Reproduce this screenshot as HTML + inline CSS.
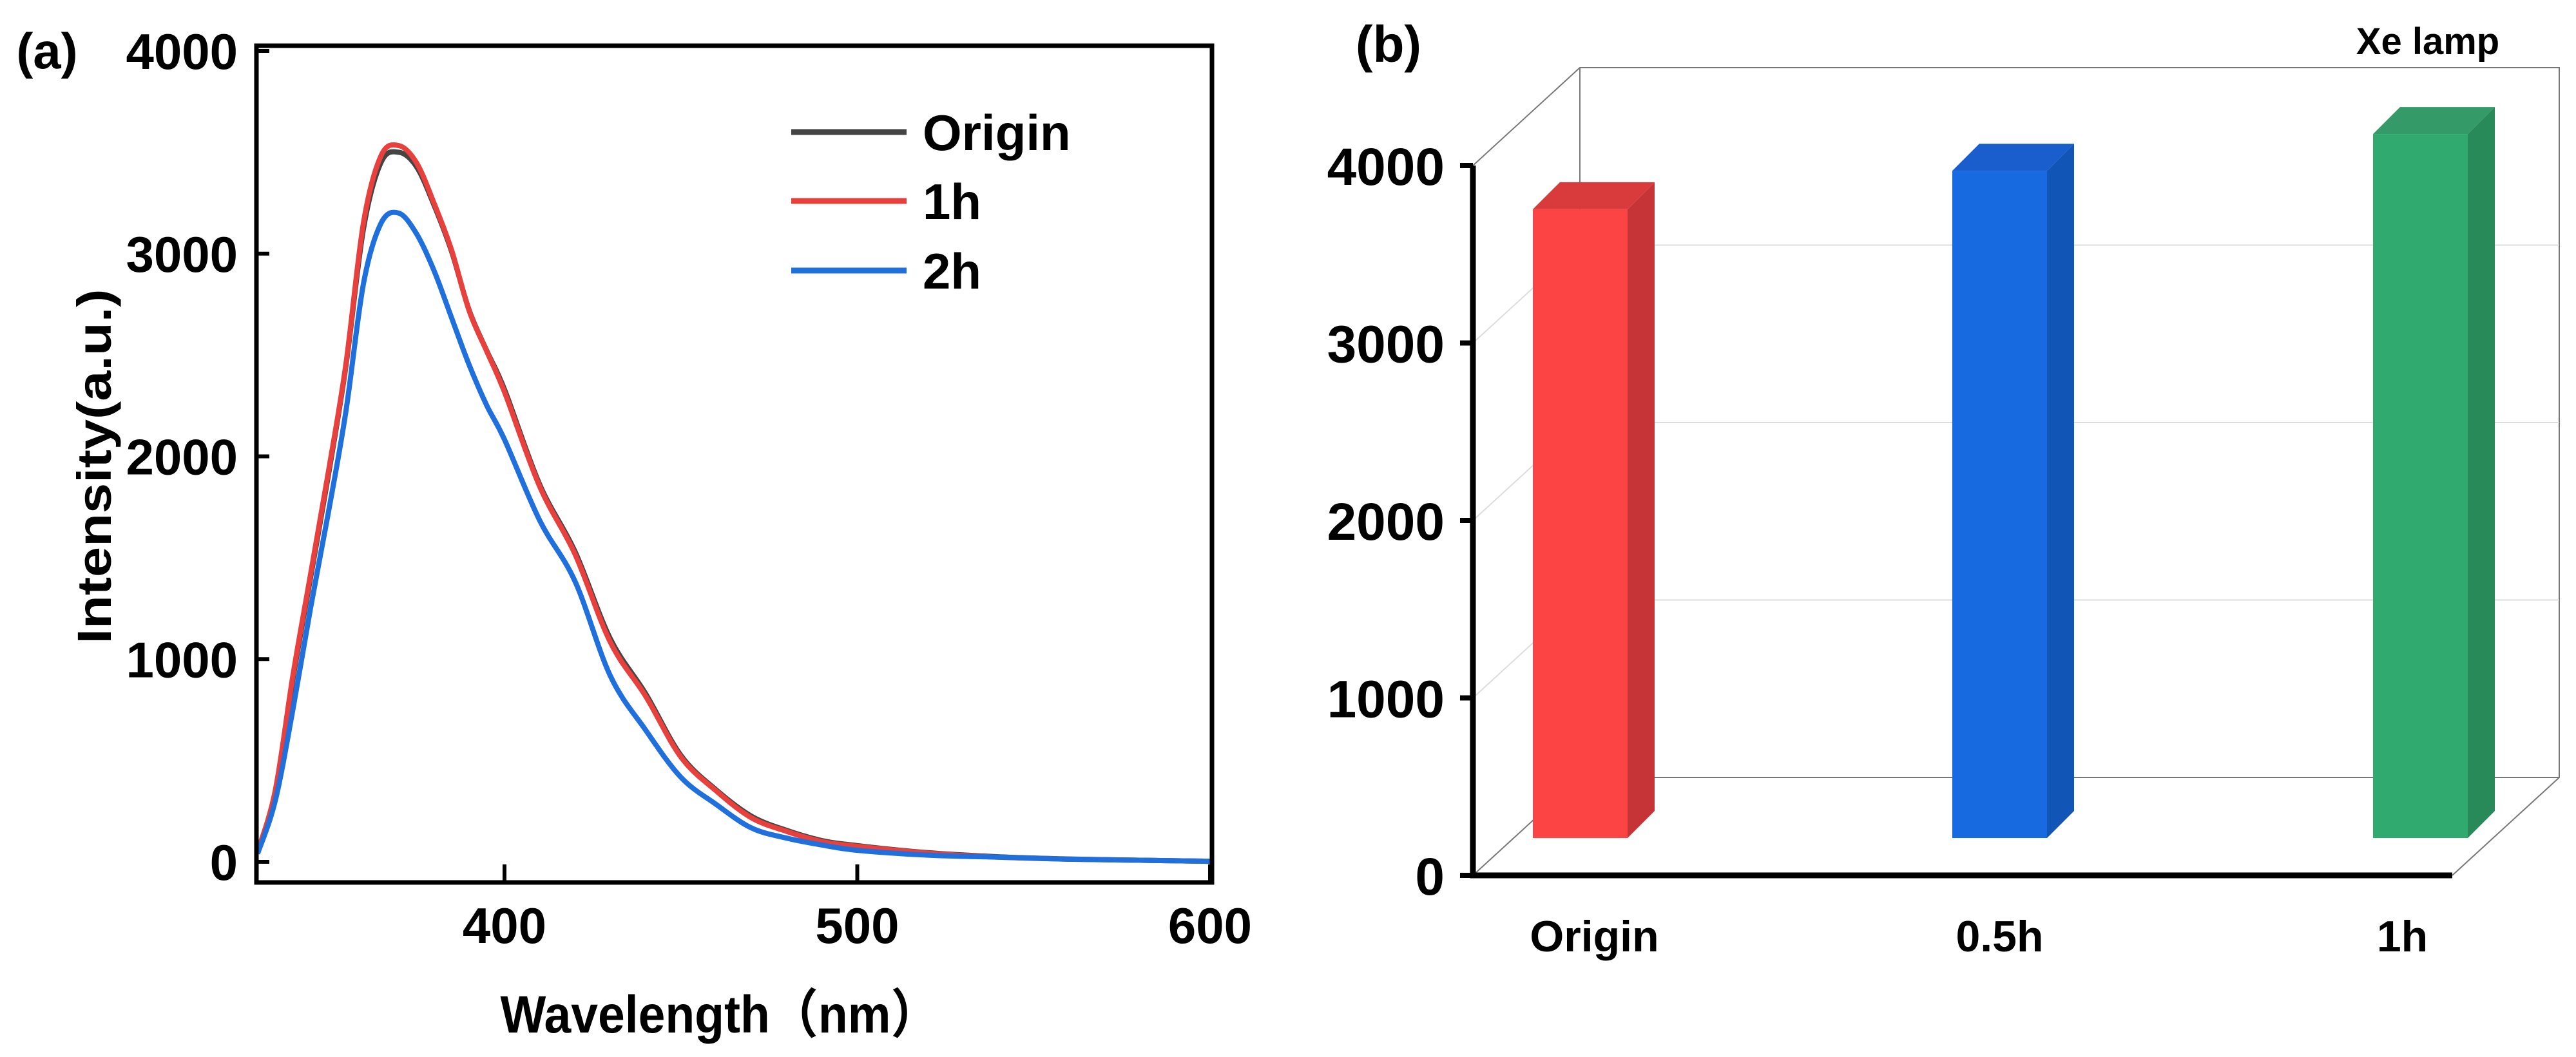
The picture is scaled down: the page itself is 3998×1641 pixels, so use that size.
<!DOCTYPE html>
<html><head><meta charset="utf-8"><style>
html,body{margin:0;padding:0;background:#fff;}
svg{display:block;font-family:"Liberation Sans","Noto Sans CJK SC",sans-serif;font-weight:bold;}
</style></head><body>
<svg id="fig" width="3998" height="1641" viewBox="0 0 3998 1641" xmlns="http://www.w3.org/2000/svg">
<g id="panelA"></g>
<g id="panelB"></g>
</svg>
<script>
// ---- Panel (a) data ----
const wavelengths = [330,335,340,345,350,355,360,365,370,375,380,385,390,395,400,410,420,430,440,450,460,470,480,490,500,520,540,560,580,600];
const originSeries = [50,340,900,1400,1900,2440,3120,3450,3500,3430,3240,3010,2720,2520,2330,1860,1530,1100,830,525,355,225,155,105,80,45,25,14,8,3];
const h1Series     = [50,350,917,1417,1917,2450,3150,3483,3533,3450,3250,3017,2717,2517,2317,1850,1517,1083,817,517,350,217,150,100,77,43,23,13,8,3];
const h2Series     = [40,300,750,1250,1717,2217,2850,3150,3200,3100,2917,2683,2450,2250,2083,1683,1383,917,650,417,283,167,117,83,57,33,23,13,8,3];
const xTicks = [400,500,600];
const yTicksA = [0,1000,2000,3000,4000];
const legendLabels = ["Origin","1h","2h"];
const seriesColors = ["#444444","#e8403c","#1f6fdc"];
// ---- Panel (b) data ----
const barCategories = ["Origin","0.5h","1h"];
const barValues = [3543,3760,3967];
const yTicksB = [0,1000,2000,3000,4000];

const NS="http://www.w3.org/2000/svg";
function mk(parent,tag,attrs,text){const e=document.createElementNS(NS,tag);for(const k in attrs)e.setAttribute(k,attrs[k]);if(text!==undefined)e.textContent=text;parent.appendChild(e);return e;}
function smooth(pts){
  let d='M'+pts[0][0].toFixed(1)+','+pts[0][1].toFixed(1);
  for(let i=0;i<pts.length-1;i++){
    const p0=pts[Math.max(0,i-1)],p1=pts[i],p2=pts[i+1],p3=pts[Math.min(pts.length-1,i+2)];
    const c1=[p1[0]+(p2[0]-p0[0])/6,p1[1]+(p2[1]-p0[1])/6];
    const c2=[p2[0]-(p3[0]-p1[0])/6,p2[1]-(p3[1]-p1[1])/6];
    d+=' C'+c1[0].toFixed(1)+','+c1[1].toFixed(1)+' '+c2[0].toFixed(1)+','+c2[1].toFixed(1)+' '+p2[0].toFixed(1)+','+p2[1].toFixed(1);
  }
  return d;
}

// ---------- Panel A ----------
const A=document.getElementById('panelA');
const xA=nm=>783+(nm-400)*5.475;
const yA=v=>1338-v*0.31475;
const fL=398,fR=1881,fT=71,fB=1370;
[originSeries,h1Series,h2Series].forEach((s,i)=>{
  const pts=s.map((v,j)=>[xA(wavelengths[j]),yA(v)]);
  const p=mk(A,'path',{d:smooth(pts),fill:'none',stroke:seriesColors[i],'stroke-width':8,'stroke-linejoin':'round'});
  
  
});
const fr=mk(A,'rect',{x:fL,y:fT,width:fR-fL,height:fB-fT,fill:'none',stroke:'#000','stroke-width':7});


xTicks.forEach(t=>{
  const l=mk(A,'line',{x1:xA(t),x2:xA(t),y1:fB,y2:fB-28,stroke:'#000','stroke-width':6});
  
  
  const tx=mk(A,'text',{x:xA(t),y:1464,'font-size':78,'text-anchor':'middle'},String(t));
  
  
});
yTicksA.forEach(t=>{
  const l=mk(A,'line',{x1:fL,x2:fL+20,y1:yA(t),y2:yA(t),stroke:'#000','stroke-width':6});
  
  
  const tx=mk(A,'text',{x:369,y:yA(t)+28,'font-size':78,'text-anchor':'end'},String(t));
  
  
});
const legY=[205,312,420];
legendLabels.forEach((lab,i)=>{
  const l=mk(A,'line',{x1:1228,x2:1407,y1:legY[i],y2:legY[i],stroke:seriesColors[i],'stroke-width':9});
  
  
  const t=mk(A,'text',{x:1432,y:legY[i]+28,'font-size':78},lab);
  
  
});
let t;
t=mk(A,'text',{x:1117,y:1603,'font-size':82,'text-anchor':'middle',textLength:681,lengthAdjust:'spacingAndGlyphs'},'Wavelength（nm）');


t=mk(A,'text',{x:0,y:0,'font-size':74,'text-anchor':'middle',transform:'translate(172,724) rotate(-90)',textLength:551,lengthAdjust:'spacingAndGlyphs'},'Intensity(a.u.)');


t=mk(A,'text',{x:73,y:106,'font-size':78,'text-anchor':'middle'},'(a)');



// ---------- Panel B ----------
const B=document.getElementById('panelB');
const axX=2286, axR=3806, y0=1359, per=0.2755, dx=166, dy=-152;
const yB=v=>y0-v*per;
const yBar=v=>1301-v*per;
const back=mk(B,'g',{stroke:'#777','stroke-width':2,fill:'none'});


mk(back,'polyline',{points:`${axX},${yB(4000)} ${axX+dx},${yB(4000)+dy} ${axR+dx},${yB(4000)+dy} ${axR+dx},${y0+dy} ${axR},${y0}`});
mk(back,'line',{x1:axX+dx,y1:yB(4000)+dy,x2:axX+dx,y2:y0+dy});
mk(back,'line',{x1:axX,y1:y0,x2:axX+dx,y2:y0+dy});
mk(back,'line',{x1:axX+dx,y1:y0+dy,x2:axR+dx,y2:y0+dy});
yTicksB.slice(1,4).forEach(v=>{
  const g1=mk(B,'line',{x1:axX+dx,x2:axR+dx,y1:yB(v)+dy,y2:yB(v)+dy,stroke:'#ddd','stroke-width':2});
  
  
  const g2=mk(B,'line',{x1:axX,x2:axX+dx,y1:yB(v),y2:yB(v)+dy,stroke:'#ddd','stroke-width':2});
  
  
});
const barLeft=[2379,3030,3683], bw=147, bd=42;
const labelShift=[22,0,-28];
const barCols=[["#fc4444","#c63437","#d93a3c"],["#176ae0","#1156b6","#1a5ecd"],["#30aa6e","#288a58","#349a68"]];
barCategories.forEach((c,i)=>{
  const g=mk(B,'g',{});
  
  
  const x=barLeft[i], top=yBar(barValues[i]), bot=yBar(0);
  mk(g,'polygon',{points:`${x+bw},${top} ${x+bw+bd},${top-42} ${x+bw+bd},${bot-42} ${x+bw},${bot}`,fill:barCols[i][1]});
  mk(g,'polygon',{points:`${x},${top} ${x+bd},${top-42} ${x+bw+bd},${top-42} ${x+bw},${top}`,fill:barCols[i][2]});
  mk(g,'rect',{x:x,y:top,width:bw,height:bot-top,fill:barCols[i][0]});
  const tx=mk(B,'text',{x:x+bw/2+labelShift[i],y:1477,'font-size':68,'text-anchor':'middle'},c);
  
  
});
const ax=mk(B,'path',{d:`M${axX},${yB(4000)} L${axX},${y0} L${axR},${y0}`,fill:'none',stroke:'#000','stroke-width':9});


yTicksB.forEach(v=>{
  const l=mk(B,'line',{x1:axX-20,x2:axX,y1:yB(v),y2:yB(v),stroke:'#000','stroke-width':8});
  
  
  const tx=mk(B,'text',{x:2242,y:yB(v)+30,'font-size':82,'text-anchor':'end'},String(v));
  
  
});
t=mk(B,'text',{x:2155,y:96,'font-size':80,'text-anchor':'middle'},'(b)');


t=mk(B,'text',{x:3768,y:84,'font-size':58,'text-anchor':'middle'},'Xe lamp');


</script>
</body></html>
